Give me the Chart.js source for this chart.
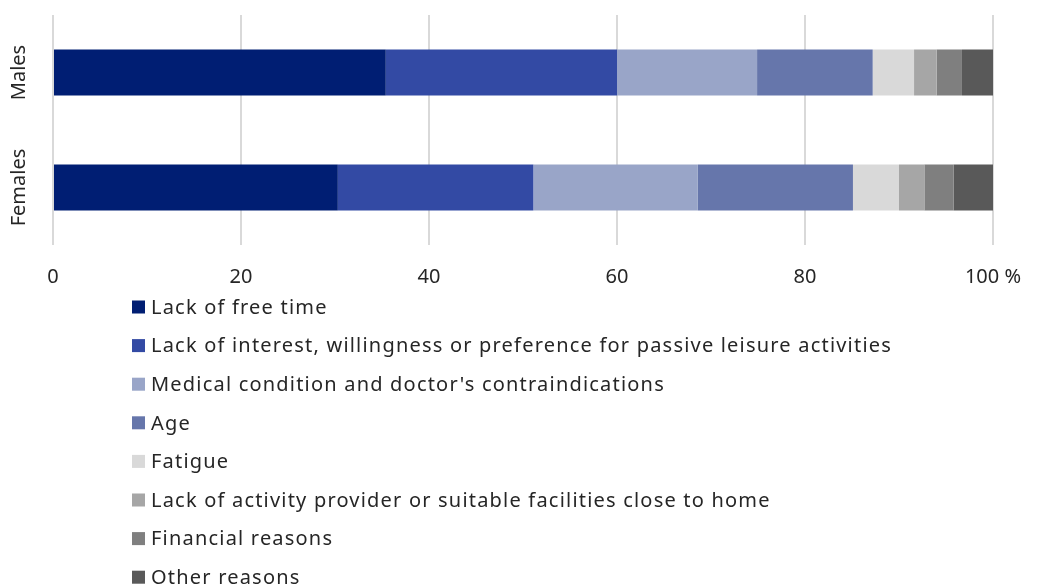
<!DOCTYPE html>
<html>
<head>
<meta charset="utf-8">
<style>
  html, body { margin: 0; padding: 0; background: #ffffff; }
  #wrap { width: 1038px; height: 586px; }
</style>
<script src="https://cdn.jsdelivr.net/npm/chart.js@4/dist/chart.umd.min.js"></script>
</head>
<body>
<div id="wrap"><canvas id="chart" width="1038" height="586"></canvas></div>
<script>
// Reasons for not doing sport, shares by sex (%)
const groups = ['Males', 'Females'];
const reasons = [
  'Lack of free time',
  'Lack of interest, willingness or preference for passive leisure activities',
  "Medical condition and doctor's contraindications",
  'Age',
  'Fatigue',
  'Lack of activity provider or suitable facilities close to home',
  'Financial reasons',
  'Other reasons'
];
const freeTime     = [35.4, 30.3];
const noInterest   = [24.6, 20.8];
const medical      = [14.9, 17.5];
const age          = [12.3, 16.5];
const fatigue      = [4.4, 4.9];
const noFacilities = [2.4, 2.7];
const financial    = [2.7, 3.1];
const other        = [3.3, 4.2];
const xTicks = [0, 20, 40, 60, 80, 100];

const seriesValues = [freeTime, noInterest, medical, age, fatigue, noFacilities, financial, other];
const colors = ['#001E73', '#334AA4', '#99A5C8', '#6676AB', '#D9D9D9', '#A6A6A6', '#7F7F7F', '#595959'];

const FONT = '"Noto Sans", "Open Sans", sans-serif';
const TEXT = '#262626';

// Vertical group names to the left of the bars, reading bottom to top
const groupLabels = {
  id: 'groupLabels',
  afterDraw(chart) {
    const ctx = chart.ctx;
    const y = chart.scales.y;
    ctx.save();
    ctx.fillStyle = TEXT;
    ctx.font = '20px ' + FONT;
    ctx.textAlign = 'center';
    ctx.textBaseline = 'alphabetic';
    chart.data.labels.forEach((lab, i) => {
      const py = y.getPixelForValue(i);
      ctx.save();
      ctx.translate(y.left + 25, py);
      ctx.rotate(-Math.PI / 2);
      ctx.fillText(lab, 0, 0);
      ctx.restore();
    });
    ctx.restore();
  }
};

// One legend entry per line, below the axis
const columnLegend = {
  id: 'columnLegend',
  afterDraw(chart) {
    const ctx = chart.ctx;
    const x0 = 132, y0 = 307, step = 38.6, box = 13;
    ctx.save();
    ctx.font = '20px ' + FONT;
    ctx.letterSpacing = '1.2px';
    ctx.textBaseline = 'middle';
    ctx.textAlign = 'left';
    chart.data.datasets.forEach((ds, i) => {
      const cy = y0 + i * step;
      ctx.fillStyle = ds.backgroundColor;
      ctx.fillRect(x0, cy - box / 2, box, box);
      ctx.fillStyle = TEXT;
      ctx.fillText(ds.label, x0 + 19, cy + 1);
    });
    ctx.restore();
  }
};

new Chart(document.getElementById('chart'), {
  type: 'bar',
  data: {
    labels: groups,
    datasets: reasons.map((r, i) => ({
      label: r,
      data: seriesValues[i],
      backgroundColor: colors[i],
      borderWidth: 0,
      barPercentage: 0.8,
      categoryPercentage: 0.5
    }))
  },
  options: {
    indexAxis: 'y',
    responsive: false,
    animation: false,
    layout: { padding: { top: 15, right: 0, bottom: 277, left: 0 } },
    plugins: {
      legend: { display: false },
      tooltip: { enabled: false }
    },
    scales: {
      x: {
        stacked: true,
        min: 0,
        max: 100,
        afterBuildTicks(scale) { scale.ticks = xTicks.map(v => ({ value: v })); },
        afterFit(scale) { scale.paddingRight = 45; },
        grid: { color: '#D9D9D9', lineWidth: 2, drawTicks: false },
        border: { display: false },
        ticks: {
          padding: 20,
          color: TEXT,
          font: { family: FONT, size: 20 },
          callback: v => (v === 100 ? '100 %' : String(v))
        }
      },
      y: {
        stacked: true,
        grid: { display: false },
        border: { display: false },
        ticks: { display: false },
        afterFit(scale) { scale.width = 53; }
      }
    }
  },
  plugins: [groupLabels, columnLegend]
});
</script>
</body>
</html>
